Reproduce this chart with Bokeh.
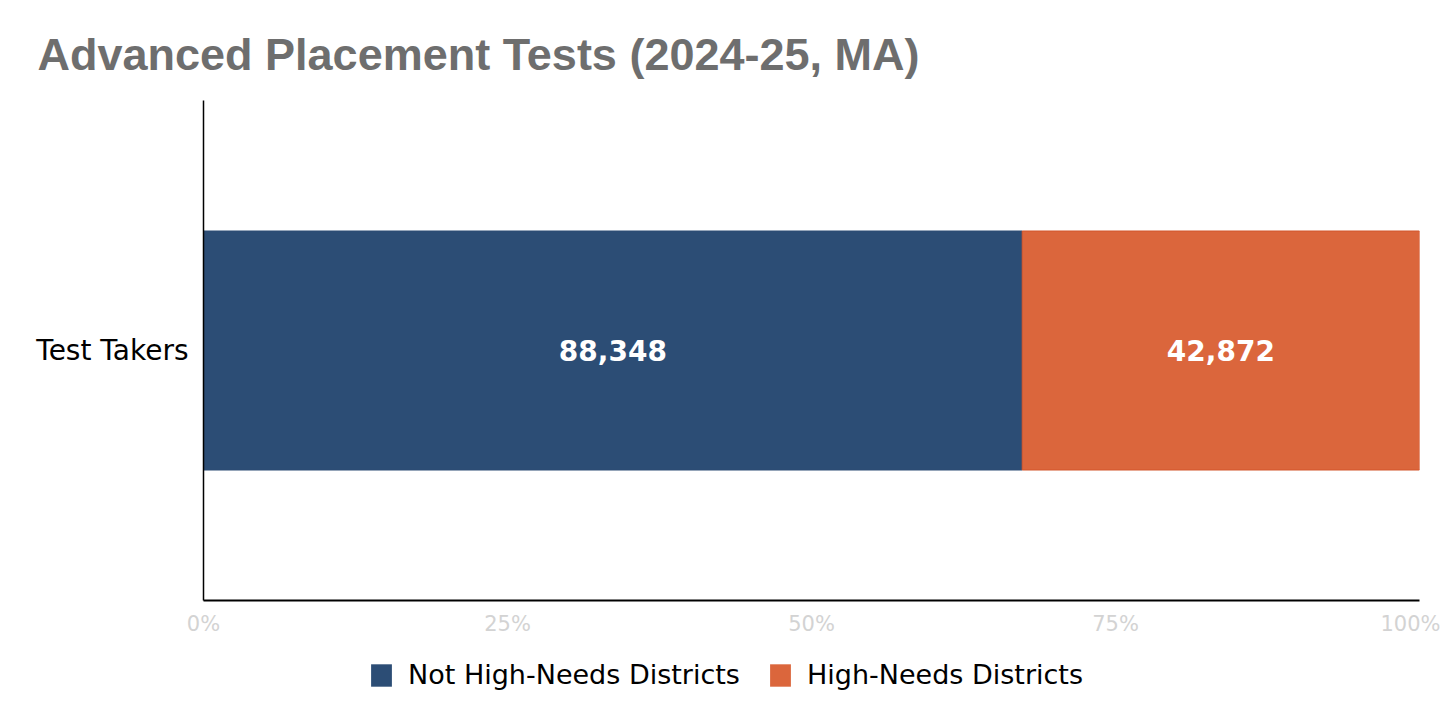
from bokeh.plotting import figure
from bokeh.layouts import column
from bokeh.models import Legend, LegendItem, NumeralTickFormatter, FixedTicker, ColumnDataSource, LabelSet, Range1d, FactorRange
from bokeh.core.properties import value
from bokeh.embed import file_html
from bokeh.resources import INLINE

categories = ["Test Takers"]
series = ["Not High-Needs Districts", "High-Needs Districts"]
not_high_needs = [88348]
high_needs = [42872]
colors = ["#2c4d75", "#db663c"]
line_colors = ["#2c4d75", "#d2552b"]
ticks = [0, 0.25, 0.5, 0.75, 1.0]

total = [a + b for a, b in zip(not_high_needs, high_needs)]
share_a = [a / t for a, t in zip(not_high_needs, total)]
share_b = [b / t for b, t in zip(high_needs, total)]

p = figure(width=1440, height=640, y_range=categories, x_range=(0, 1),
           output_backend="svg", toolbar_location=None,
           min_border_left=203, min_border_right=21, min_border_top=100, min_border_bottom=40)
p.y_range.range_padding = 0

src = ColumnDataSource(dict(
    cat=categories,
    a0=[0] * len(categories), a1=share_a,
    b0=share_a, b1=[sa + sb for sa, sb in zip(share_a, share_b)],
    amid=[s / 2 for s in share_a],
    bmid=[sa + sb / 2 for sa, sb in zip(share_a, share_b)],
    alab=[f"{v:,}" for v in not_high_needs],
    blab=[f"{v:,}" for v in high_needs],
))

ra = p.hbar(y="cat", left="a0", right="a1", height=0.478, source=src,
            fill_color=colors[0], line_color=line_colors[0], line_width=1)
rb = p.hbar(y="cat", left="b0", right="b1", height=0.478, source=src,
            fill_color=colors[1], line_color=line_colors[1], line_width=1)

for xcol, tcol in (("amid", "alab"), ("bmid", "blab")):
    p.add_layout(LabelSet(x=xcol, y="cat", text=tcol, source=src,
                          text_color="white", text_font=value("DejaVu Sans"),
                          text_font_style="bold", text_font_size="28px",
                          text_align="center", text_baseline="middle"))

p.title.text = "Advanced Placement Tests (2024-25, MA)"
p.title.text_font = "Liberation Sans"
p.title.text_font_style = "bold"
p.title.text_font_size = "45px"
p.title.text_color = "#6e6e6e"
p.title.align = "left"
p.title.offset = -166
p.title.standoff = 41

p.xaxis.ticker = FixedTicker(ticks=ticks)
p.xaxis.formatter = NumeralTickFormatter(format="0%")
p.xaxis.major_tick_line_color = None
p.xaxis.minor_tick_line_color = None
p.xaxis.axis_line_color = "black"
p.xaxis.axis_line_width = 2
p.xaxis.major_label_text_color = "#d3d3d3"
p.xaxis.major_label_text_font = "DejaVu Sans"
p.xaxis.major_label_text_font_size = "21px"
p.xaxis.major_label_standoff = 5

p.yaxis.major_tick_line_color = None
p.yaxis.minor_tick_line_color = None
p.yaxis.axis_line_color = "black"
p.yaxis.axis_line_width = 1.5
p.yaxis.major_label_text_color = "black"
p.yaxis.major_label_text_font = "DejaVu Sans"
p.yaxis.major_label_text_font_size = "28px"
p.yaxis.major_label_standoff = 9

p.xgrid.grid_line_color = None
p.ygrid.grid_line_color = None
p.outline_line_color = None

# legend strip below the chart (its bars lie far outside its visible range)
lg = figure(width=1440, height=71, x_range=Range1d(-30, -29), y_range=FactorRange(factors=categories),
            output_backend="svg", toolbar_location=None,
            min_border_left=0, min_border_right=0, min_border_top=0, min_border_bottom=0,
            x_axis_type=None, y_axis_type=None)
lg.outline_line_color = None
lg.xgrid.grid_line_color = None
lg.ygrid.grid_line_color = None
la = lg.hbar(y="cat", left="a0", right="a1", height=0.0001, source=src,
             fill_color=colors[0], line_color=None)
lb = lg.hbar(y="cat", left="b0", right="b1", height=0.0001, source=src,
             fill_color=colors[1], line_color=None)

legend = Legend(items=[LegendItem(label=series[0], renderers=[la]),
                       LegendItem(label=series[1], renderers=[lb])],
                orientation="horizontal", location=(165, 21),
                glyph_width=26, glyph_height=28, label_height=24,
                label_standoff=14, spacing=27, padding=0, margin=0,
                border_line_color=None, background_fill_alpha=0,
                label_text_font="DejaVu Sans", label_text_font_size="27px",
                label_text_color="black")
lg.add_layout(legend, "center")

open("out.html", "w").write(file_html(column(p, lg, spacing=0), INLINE))
